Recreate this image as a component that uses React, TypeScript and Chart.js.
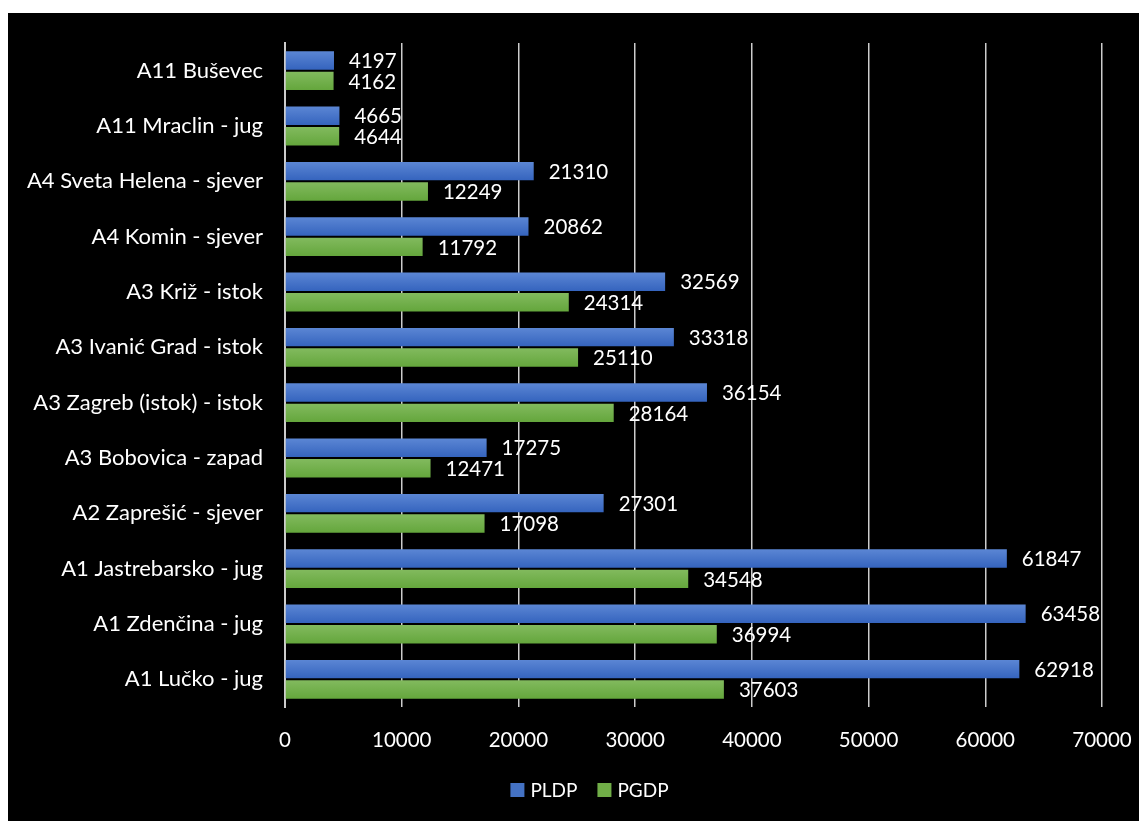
import React, { useEffect, useRef } from "react";
import { Chart, registerables } from "chart.js";

Chart.register(...registerables);

const categories = [
  "A11 Buševec",
  "A11 Mraclin - jug",
  "A4 Sveta Helena - sjever",
  "A4 Komin - sjever",
  "A3 Križ - istok",
  "A3 Ivanić Grad - istok",
  "A3 Zagreb (istok) - istok",
  "A3 Bobovica - zapad",
  "A2 Zaprešić - sjever",
  "A1 Jastrebarsko - jug",
  "A1 Zdenčina - jug",
  "A1 Lučko - jug",
];

const pldp = [4197, 4665, 21310, 20862, 32569, 33318, 36154, 17275, 27301, 61847, 63458, 62918];
const pgdp = [4162, 4644, 12249, 11792, 24314, 25110, 28164, 12471, 17098, 34548, 36994, 37603];

const xTicks = [0, 10000, 20000, 30000, 40000, 50000, 60000, 70000];
const seriesNames = ["PLDP", "PGDP"];
const legendColors = ["#4472c4", "#70ad47"];

const FONT = "Lato, 'Noto Sans', sans-serif";
const CAT_PCT = 0.74;
const BAR_PCT = 0.9;

function gradientFor(ctx: any, dsIndex: number, top: string, bottom: string) {
  const chart = ctx.chart;
  const y = chart.scales?.y;
  if (!y || ctx.dataIndex === undefined || !chart.chartArea) return top;
  const center = y.getPixelForValue(ctx.dataIndex);
  const band = (y.bottom - y.top) / categories.length;
  const slot = (band * CAT_PCT) / 2;
  const thick = slot * BAR_PCT;
  const c = center + (dsIndex === 0 ? -slot / 2 : slot / 2);
  const g = chart.ctx.createLinearGradient(0, c - thick / 2, 0, c + thick / 2);
  g.addColorStop(0, top);
  g.addColorStop(1, bottom);
  return g;
}

const labelPlugin = {
  id: "valueLabels",
  afterDatasetsDraw(chart: any) {
    const ctx = chart.ctx;
    ctx.save();
    ctx.fillStyle = "#ffffff";
    ctx.font = `20.5px ${FONT}`;
    ctx.textAlign = "left";
    ctx.textBaseline = "middle";
    chart.data.datasets.forEach((ds: any, i: number) => {
      const meta = chart.getDatasetMeta(i);
      meta.data.forEach((bar: any, j: number) => {
        ctx.fillText(String(ds.data[j]), bar.x + 15, bar.y + 1);
      });
    });
    ctx.restore();
  },
};

const legendPlugin = {
  id: "customLegend",
  afterDraw(chart: any) {
    const ctx = chart.ctx;
    ctx.save();
    ctx.font = `19px ${FONT}`;
    ctx.textBaseline = "middle";
    ctx.textAlign = "left";
    const box = 14;
    const gapText = 6;
    const gapItem = 20;
    const widths = seriesNames.map((n) => box + gapText + ctx.measureText(n).width);
    const total = widths.reduce((a, b) => a + b, 0) + gapItem * (seriesNames.length - 1);
    let x = chart.width / 2 + 12 - total / 2;
    const cy = chart.height - 31;
    seriesNames.forEach((n, i) => {
      ctx.fillStyle = legendColors[i];
      ctx.fillRect(x, cy - box / 2, box, box);
      ctx.fillStyle = "#ffffff";
      ctx.fillText(n, x + box + gapText, cy + 1);
      x += widths[i] + gapItem;
    });
    ctx.restore();
  },
};

export default function App() {
  const canvasRef = useRef<HTMLCanvasElement | null>(null);

  useEffect(() => {
    document.documentElement.style.overflow = "hidden";
    document.body.style.overflow = "hidden";
    if (!canvasRef.current) return;
    const chart = new Chart(canvasRef.current, {
      type: "bar",
      data: {
        labels: categories,
        datasets: [
          {
            label: seriesNames[0],
            data: pldp,
            backgroundColor: (ctx: any) => gradientFor(ctx, 0, "#5b86d4", "#3564be"),
            borderWidth: 0,
            categoryPercentage: CAT_PCT,
            barPercentage: BAR_PCT,
          },
          {
            label: seriesNames[1],
            data: pgdp,
            backgroundColor: (ctx: any) => gradientFor(ctx, 1, "#82ba5e", "#64a63c"),
            borderWidth: 0,
            categoryPercentage: CAT_PCT,
            barPercentage: BAR_PCT,
          },
        ],
      },
      options: {
        indexAxis: "y",
        animation: false,
        responsive: true,
        maintainAspectRatio: false,
        layout: { padding: { left: 0, right: 45, top: 30, bottom: 60 } },
        scales: {
          x: {
            min: 0,
            max: 70000,
            afterBuildTicks: (scale: any) => {
              scale.ticks = xTicks.map((v) => ({ value: v }));
            },
            afterFit: (scale: any) => {
              scale.height = 54;
              scale.paddingLeft = 0;
              scale.paddingRight = 0;
            },
            grid: {
              color: "#cccccc",
              lineWidth: 1.5,
              drawTicks: false,
            },
            border: { display: false },
            ticks: {
              color: "#ffffff",
              font: { size: 20.5, family: FONT },
              padding: 21,
              maxRotation: 0,
              callback: (v: any) => String(v),
            },
          },
          y: {
            afterFit: (scale: any) => {
              scale.width = 277;
            },
            grid: { display: false },
            border: { display: true, color: "#cccccc", width: 2 },
            ticks: {
              color: "#ffffff",
              font: { size: 22, family: FONT },
              padding: 14,
            },
          },
        },
        plugins: {
          legend: { display: false },
          tooltip: { enabled: false },
        },
      },
      plugins: [labelPlugin, legendPlugin],
    });
    return () => chart.destroy();
  }, []);

  return (
    <div style={{ paddingTop: 5 }}>
      <div style={{ width: 1139, height: 808, background: "#000000", position: "relative" }}>
        <canvas ref={canvasRef} />
      </div>
    </div>
  );
}
